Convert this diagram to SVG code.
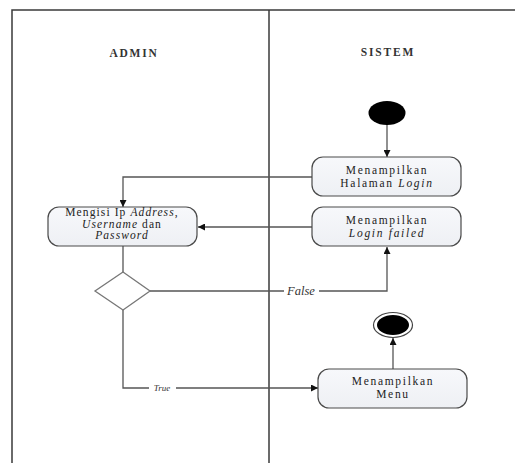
<svg xmlns="http://www.w3.org/2000/svg" width="515" height="463" viewBox="0 0 515 463">
<style>
.frame{fill:none;stroke:#3a3a3a;stroke-width:1.5}
.box{fill:url(#g);stroke:#4a4a4a;stroke-width:1.2}
.conn{fill:none;stroke:#555;stroke-width:1.3}
text{font-family:"Liberation Serif","DejaVu Serif","Times New Roman",serif}
.t{font-size:11.5px;letter-spacing:1.7px;fill:#222;text-anchor:middle}
.i{font-style:italic}
.h{font-size:11.5px;font-weight:bold;letter-spacing:1.8px;fill:#333;text-anchor:middle}
.lbl{font-style:italic;fill:#333;text-anchor:middle}
</style>
<defs>
<linearGradient id="g" x1="0" y1="0" x2="0" y2="1">
<stop offset="0" stop-color="#f7f8fb"/>
<stop offset="1" stop-color="#eef0f4"/>
</linearGradient>
<marker id="arr" viewBox="0 0 10 10" refX="10" refY="5" markerWidth="7" markerHeight="7" markerUnits="userSpaceOnUse" orient="auto">
<path d="M0,0 L10,5 L0,10 z" fill="#111"/>
</marker>
</defs>
<rect width="515" height="463" fill="#fff"/>
<g id="swimlanes">
<path class="frame" d="M12,463 V10 H515"/>
<path class="frame" d="M269,10 V463"/>
<text class="h" x="134" y="57">ADMIN</text>
<text class="h" x="388" y="56">SISTEM</text>
</g>
<g id="connectors">
<path class="conn" d="M387,125 V157" marker-end="url(#arr)"/>
<path class="conn" d="M312,177 H123 V207" marker-end="url(#arr)"/>
<path class="conn" d="M312,227 H198" marker-end="url(#arr)"/>
<path class="conn" d="M123,246 V272"/>
<path class="conn" d="M150,291 H387 V247" marker-end="url(#arr)"/>
<path class="conn" d="M123,310 V388 H318" marker-end="url(#arr)"/>
<path class="conn" d="M393,369 V338" marker-end="url(#arr)"/>
<rect x="284" y="285" width="35" height="12" fill="#fff"/>
<text class="lbl" x="301" y="295" font-size="12.5">False</text>
<rect x="149" y="383" width="27" height="10" fill="#fff"/>
<text class="lbl" x="162" y="391" font-size="9">True</text>
</g>
<g id="start">
<ellipse cx="387" cy="113" rx="18.5" ry="12" fill="#000"/>
</g>
<g id="halaman-login">
<rect class="box" x="312" y="157" width="149" height="39" rx="11"/>
<text class="t" x="387" y="174">Menampilkan<tspan x="387" dy="12.5">Halaman <tspan class="i">Login</tspan></tspan></text>
</g>
<g id="login-failed">
<rect class="box" x="312" y="207" width="149" height="39" rx="11"/>
<text class="t" x="387" y="224">Menampilkan<tspan class="i" x="387" dy="12.5">Login failed</tspan></text>
</g>
<g id="mengisi">
<rect class="box" x="48" y="207" width="149" height="39" rx="11"/>
<text class="t" x="122" y="216" style="letter-spacing:1.1px">Mengisi Ip <tspan class="i">Address</tspan>,<tspan x="122" dy="11.5"><tspan class="i">Username</tspan> dan</tspan><tspan class="i" x="122" dy="11.5">Password</tspan></text>
</g>
<g id="decision">
<path d="M123,272 L150,291 L123,310 L95,291 z" fill="#fff" stroke="#777" stroke-width="1.3"/>
</g>
<g id="menu">
<rect class="box" x="318" y="369" width="149" height="39" rx="11"/>
<text class="t" x="393" y="385">Menampilkan<tspan x="393" dy="12.5">Menu</tspan></text>
</g>
<g id="end">
<ellipse cx="393" cy="325" rx="19.5" ry="12.5" fill="#fff" stroke="#444" stroke-width="1.2"/>
<ellipse cx="393" cy="325" rx="16" ry="10" fill="#000"/>
</g>
</svg>
